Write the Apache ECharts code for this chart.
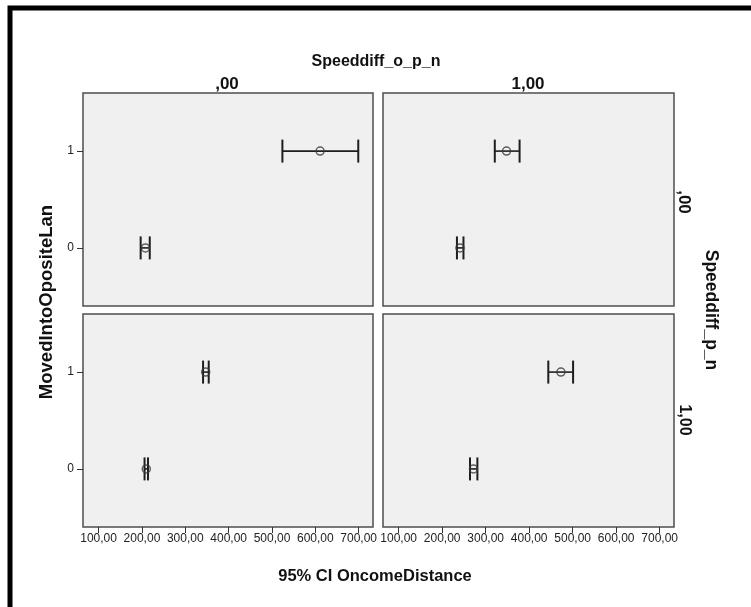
<!DOCTYPE html>
<html>
<head>
<meta charset="utf-8">
<script src="https://cdn.jsdelivr.net/npm/echarts@6/dist/echarts.min.js"></script>
<style>
  html, body { margin: 0; padding: 0; background: #fff; }
  #chart { width: 751px; height: 607px; }
</style>
</head>
<body>
<div id="chart"></div>
<script>
// Row levels of MovedIntoOpositeLan (y axis)
const rowLevels = [0, 1];
// X tick values for OncomeDistance
const xTicks = [100, 200, 300, 400, 500, 600, 700];
// Panel labels
const colLabels = [',00', '1,00'];   // Speeddiff_o_p_n
const rowLabels = [',00', '1,00'];   // Speeddiff_p_n

// Mean and 95% CI for each panel, indexed by rowLevels
// Speeddiff_o_p_n = ,00 / Speeddiff_p_n = ,00
const meanA = [208, 611];
const lowA  = [197, 524];
const highA = [218, 699];
// Speeddiff_o_p_n = 1,00 / Speeddiff_p_n = ,00
const meanB = [241, 348];
const lowB  = [234, 321];
const highB = [249, 378];
// Speeddiff_o_p_n = ,00 / Speeddiff_p_n = 1,00
const meanC = [210, 347];
const lowC  = [206, 341];
const highC = [214, 354];
// Speeddiff_o_p_n = 1,00 / Speeddiff_p_n = 1,00
const meanD = [272, 473];
const lowD  = [264, 444];
const highD = [281, 501];

const panels = [
  { mean: meanA, low: lowA, high: highA },
  { mean: meanB, low: lowB, high: highB },
  { mean: meanC, low: lowC, high: highC },
  { mean: meanD, low: lowD, high: highD }
];

const FONT = '"Liberation Sans", Arial, sans-serif';
const fmt = v => v.toFixed(2).replace('.', ',');

const gridPos = [
  { left: 83,  top: 93,  width: 290, height: 213 },
  { left: 383, top: 93,  width: 291, height: 213 },
  { left: 83,  top: 314, width: 290, height: 213 },
  { left: 383, top: 314, width: 291, height: 213 }
];

const grids = gridPos.map(g => Object.assign({
  show: true,
  backgroundColor: '#f0f0f0',
  borderColor: '#4d4d4d',
  borderWidth: 1.5,
  containLabel: false
}, g));

const xAxes = gridPos.map((g, i) => ({
  type: 'value',
  gridIndex: i,
  position: 'bottom',
  min: 64,
  max: 733,
  show: i >= 2,
  splitLine: { show: false },
  axisLine: { show: false, onZero: false },
  axisTick: { show: true, customValues: xTicks, length: 6, lineStyle: { color: '#333', width: 1 } },
  axisLabel: {
    customValues: xTicks, formatter: fmt, margin: 6,
    fontFamily: FONT, fontSize: 12, color: '#222'
  }
}));

const yAxes = gridPos.map((g, i) => ({
  type: 'value',
  gridIndex: i,
  position: 'left',
  min: -0.6,
  max: 1.6,
  show: i % 2 === 0,
  splitLine: { show: false },
  axisLine: { show: false, onZero: false },
  axisTick: { show: true, customValues: rowLevels, length: 6, lineStyle: { color: '#333', width: 1 } },
  axisLabel: {
    customValues: rowLevels, margin: 9,
    fontFamily: FONT, fontSize: 12, color: '#222'
  }
}));

const series = [];
panels.forEach((p, i) => {
  series.push({
    type: 'custom',
    xAxisIndex: i,
    yAxisIndex: i,
    data: rowLevels.map((r, k) => [p.low[k], r, p.high[k]]),
    encode: { x: [0, 2], y: 1 },
    renderItem: (params, api) => {
      const a = api.coord([api.value(0), api.value(1)]);
      const b = api.coord([api.value(2), api.value(1)]);
      const h = 11.5;
      const st = { stroke: '#1e1e1e', lineWidth: 2 };
      return {
        type: 'group',
        children: [
          { type: 'line', shape: { x1: a[0], y1: a[1], x2: b[0], y2: b[1] }, style: { stroke: '#1e1e1e', lineWidth: 1.6 } },
          { type: 'line', shape: { x1: a[0], y1: a[1] - h, x2: a[0], y2: a[1] + h }, style: st },
          { type: 'line', shape: { x1: b[0], y1: b[1] - h, x2: b[0], y2: b[1] + h }, style: st }
        ]
      };
    },
    z: 2
  });
  series.push({
    type: 'scatter',
    xAxisIndex: i,
    yAxisIndex: i,
    data: rowLevels.map((r, k) => [p.mean[k], r]),
    symbol: 'circle',
    symbolSize: 8,
    itemStyle: { color: 'rgba(0,0,0,0)', borderColor: '#3a3a3a', borderWidth: 1.5 },
    z: 3
  });
});

const titleStyle = (text, size) => ({
  text, fontFamily: FONT, fontWeight: 'bold', fontSize: size, fill: '#111',
  align: 'center', verticalAlign: 'middle'
});

const graphic = [
  // outer frame
  { type: 'rect', shape: { x: 10, y: 8, width: 900, height: 800 },
    style: { fill: 'none', stroke: '#000', lineWidth: 5 }, silent: true },
  { type: 'text', x: 376, y: 62, style: titleStyle('Speeddiff_o_p_n', 16) },
  { type: 'text', x: 227, y: 84, style: titleStyle(colLabels[0], 17) },
  { type: 'text', x: 528, y: 84, style: titleStyle(colLabels[1], 17) },
  { type: 'text', x: 684, y: 202, rotation: -Math.PI / 2, style: titleStyle(rowLabels[0], 17) },
  { type: 'text', x: 684, y: 420, rotation: -Math.PI / 2, style: titleStyle(rowLabels[1], 16) },
  { type: 'text', x: 711, y: 310, rotation: -Math.PI / 2, style: titleStyle('Speeddiff_p_n', 17.5) },
  { type: 'text', x: 47, y: 302, rotation: Math.PI / 2, style: titleStyle('MovedIntoOpositeLan', 18.5) },
  { type: 'text', x: 375, y: 576, style: titleStyle('95% CI OncomeDistance', 16.5) }
];

const chart = echarts.init(document.getElementById('chart'), null, { renderer: 'canvas' });
chart.setOption({
  animation: false,
  backgroundColor: '#fff',
  grid: grids,
  xAxis: xAxes,
  yAxis: yAxes,
  series,
  graphic
});
</script>
</body>
</html>
